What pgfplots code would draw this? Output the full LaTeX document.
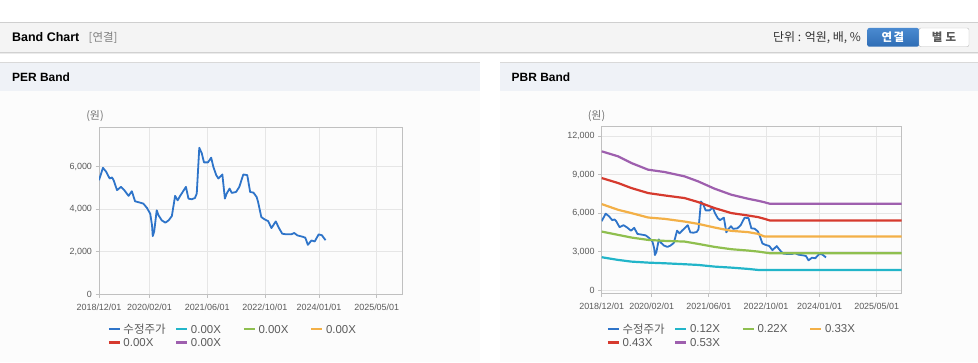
\documentclass[border=0pt]{standalone}
\usepackage{fontspec}
\setmainfont{Liberation Sans}
\newfontfamily\kr{Noto Sans CJK KR}
\usepackage{pgfplots}
\pgfplotsset{compat=1.18}
\definecolor{cblue}{HTML}{2E74C9}
\definecolor{ccyan}{HTML}{22B5C9}
\definecolor{cgreen}{HTML}{8FBF4F}
\definecolor{corange}{HTML}{F3B047}
\definecolor{cred}{HTML}{D63A2E}
\definecolor{cpurple}{HTML}{9E5FAE}
\definecolor{hbg}{HTML}{F4F4F4}
\definecolor{hline}{HTML}{CFCFCF}
\definecolor{phbg}{HTML}{EFF2F7}
\definecolor{pbody}{HTML}{FCFCFC}
\definecolor{axgray}{HTML}{C0C0C0}
\definecolor{gridgray}{HTML}{E6E6E6}
\definecolor{tickgray}{HTML}{5A5A5A}
\definecolor{btntop}{HTML}{4A8AD0}
\definecolor{btnbot}{HTML}{2F6DB5}

\pgfplotstableread{
m v
0 5370
1.1 5955
2.0 5765
2.95 5450
3.6 5500
4.05 5370
5.0 4900
6.1 5055
7.0 4900
8.2 4630
9.1 4850
10.0 4375
11.4 4310
12.3 4265
13.3 4060
14.2 3790
14.7 3240
14.9 2730
15.3 2950
16.0 3950
16.5 3715
17.4 3475
18.4 3365
19.3 3475
20.2 3680
21.1 4630
21.8 4420
22.5 4630
23.2 4815
24.1 5055
24.8 4500
25.7 4470
26.6 4530
27.1 4740
27.8 6900
28.5 6635
29.1 6210
30.2 6210
31.1 6430
31.7 6000
32.5 5610
33.1 5450
34.2 5640
34.9 4500
35.4 4740
36.2 4975
36.8 4770
38.0 4815
38.9 5055
40.0 5640
41.1 5610
41.9 4815
42.8 4785
43.7 4580
44.1 4345
45.0 3630
45.9 3520
46.9 3440
47.8 3110
49.0 3425
49.9 3110
50.8 2845
51.9 2815
53.3 2815
54.1 2880
55.0 2765
56.5 2700
57.2 2655
57.9 2320
58.9 2525
59.8 2480
60.9 2815
61.8 2770
62.8 2540
}\price

\pgfplotstableread{
m cyan green orange red purple
0 2560 4560 6700 8730 10810
4.6 2350 4300 6255 8340 10420
8.3 2220 4095 6000 7950 9900
13 2140 3910 5655 7560 9380
17.6 2090 3835 5550 7375 9200
23.2 2015 3780 5340 7170 8860
27 1960 3600 5160 6860 8470
31.6 1830 3365 4875 6390 7900
36.3 1750 3185 4615 6000 7430
41 1650 3080 4515 5810 7115
43.8 1570 3000 4380 5685 6960
45.6 1570 2930 4170 5550 6840
47.1 1570 2870 4170 5420 6725
84 1570 2870 4170 5420 6725
}\bands

\pgfplotsset{bandaxis/.style={
  scale only axis, xmin=0, xmax=84,
  axis line style={draw=axgray, line width=0.8bp},
  grid=major, major grid style={draw=gridgray, line width=0.7bp},
  xtick={0,14,30,46,61,77},
  xticklabels={2018/12/01,2020/02/01,2021/06/01,2022/10/01,2024/01/01,2025/05/01},
  tick align=outside, tick pos=left, major tick length=3.5bp,
  tick style={draw=axgray, line width=0.8bp},
  ticklabel style={font=\fontsize{9}{10}\selectfont, text=tickgray},
  xticklabel style={yshift=-2.5bp},
  /pgf/number format/assume math mode=true,
  /pgf/number format/1000 sep={,},
  scaled y ticks=false,
  legend columns=4,
  legend cell align=left,
  legend image code/.code={\draw[##1, line width=2.5bp] (0bp,0bp) -- (10.6bp,0bp);},
  legend style={draw=none, fill=none, inner sep=0pt, outer sep=0pt,
    font=\fontsize{11.5}{13}\selectfont, text=tickgray,
    nodes={inner sep=0pt, text depth=0pt, minimum height=13.7bp},
    column sep=0pt, row sep=0pt,
    /tikz/every odd column/.append style={column sep=2.7bp},
    anchor=north west},
}}

\begin{document}
\begin{tikzpicture}[x=1bp,y=1bp]
\path[use as bounding box] (0,0) rectangle (978,362);
\fill[white] (0,0) rectangle (978,362);
% top header bar
\fill[hbg] (0,310) rectangle (978,339.7);
\draw[hline, line width=0.8bp] (0,339.7) -- (978,339.7);
\draw[black!18, line width=1bp] (0,309.8) -- (978,309.8);
\draw[black!8, line width=1bp] (0,308.8) -- (978,308.8);
\node[anchor=west, inner sep=0pt, font=\bfseries\fontsize{12.5}{14}\selectfont] at (12,324.5) {Band Chart};
\node[anchor=west, inner sep=0pt, text=black!50, font=\kr\fontsize{11.5}{13}\selectfont] at (88.5,324.5) {[연결]};
\node[anchor=east, inner sep=0pt, text=black!80, font=\kr\fontsize{12}{13}\selectfont] at (861,324.5) {단위 : 억원, 배, \%};
\shade[top color=btntop, bottom color=btnbot, rounded corners=2bp] (867.3,315.3) rectangle (919,334);
\draw[black!25, fill=white, rounded corners=2bp] (919,315.3) rectangle (969,334);
\node[text=white, inner sep=0pt, font=\kr\bfseries\fontsize{11.5}{12}\selectfont] at (893,324.6) {연\hspace{1.5bp}결};
\node[text=black!65, inner sep=0pt, font=\kr\bfseries\fontsize{11.5}{12}\selectfont] at (944,324.6) {별\hspace{3bp}도};
% panels
\fill[pbody] (0,0) rectangle (480,271.3);
\fill[pbody] (500,0) rectangle (978,271.3);
\fill[phbg] (0,271.3) rectangle (480,299.3);
\fill[phbg] (500,271.3) rectangle (978,299.3);
\draw[black!15, line width=0.8bp] (0,299.3) -- (480,299.3);
\draw[black!15, line width=0.8bp] (500,299.3) -- (978,299.3);
\node[anchor=west, inner sep=0pt, font=\bfseries\fontsize{12}{14}\selectfont] at (12,285) {PER Band};
\node[anchor=west, inner sep=0pt, font=\bfseries\fontsize{12}{14}\selectfont] at (511.5,285) {PBR Band};
\node[inner sep=0pt, text=black!55, font=\kr\fontsize{11}{12}\selectfont] at (95,246) {(원)};
\node[inner sep=0pt, text=black!55, font=\kr\fontsize{11}{12}\selectfont] at (596.5,246) {(원)};

% PER axis
\begin{axis}[bandaxis, at={(99bp,68bp)}, anchor=south west,
  width=303bp, height=167bp, ymin=0, ymax=7880,
  ytick={0,2000,4000,6000},
  legend style={at={(axis description cs:0.0287,-0.1686)}}]
\addplot[draw=cblue, line width=1.8bp, line join=round] table[x=m, y=v] {\price};
\addlegendentry{\makebox[51.7bp][l]{\kr 수정주가}}
\addlegendimage{draw=ccyan}
\addlegendentry{\makebox[51.7bp][l]{0.00X}}
\addlegendimage{draw=cgreen}
\addlegendentry{\makebox[51.7bp][l]{0.00X}}
\addlegendimage{draw=corange}
\addlegendentry{\makebox[51.7bp][l]{0.00X}}
\addlegendimage{draw=cred}
\addlegendentry{\makebox[51.7bp][l]{0.00X}}
\addlegendimage{draw=cpurple}
\addlegendentry{\makebox[51.7bp][l]{0.00X}}
\end{axis}

% PBR axis
\begin{axis}[bandaxis, at={(601.7bp,68.7bp)}, anchor=south west,
  width=300bp, height=166.6bp, ymin=-250, ymax=12730,
  ytick={0,3000,6000,9000,12000},
  legend style={at={(axis description cs:0.0167,-0.172)}}]
\addplot[draw=cblue, line width=1.8bp, line join=round] table[x=m, y=v] {\price};
\addlegendentry{\makebox[51.7bp][l]{\kr 수정주가}}
\addplot[draw=ccyan, line width=2.2bp] table[x=m, y=cyan] {\bands};
\addlegendentry{\makebox[51.7bp][l]{0.12X}}
\addplot[draw=cgreen, line width=2.2bp] table[x=m, y=green] {\bands};
\addlegendentry{\makebox[51.7bp][l]{0.22X}}
\addplot[draw=corange, line width=2.2bp] table[x=m, y=orange] {\bands};
\addlegendentry{\makebox[51.7bp][l]{0.33X}}
\addplot[draw=cred, line width=2.2bp] table[x=m, y=red] {\bands};
\addlegendentry{\makebox[51.7bp][l]{0.43X}}
\addplot[draw=cpurple, line width=2.2bp] table[x=m, y=purple] {\bands};
\addlegendentry{\makebox[51.7bp][l]{0.53X}}
\end{axis}
\end{tikzpicture}
\end{document}
